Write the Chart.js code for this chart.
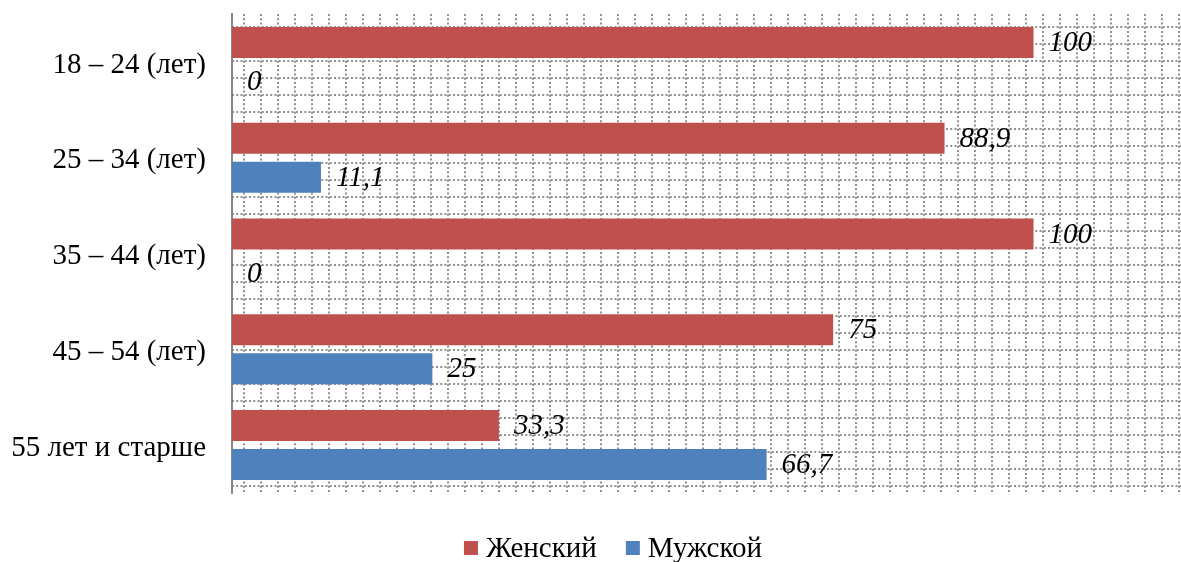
<!DOCTYPE html>
<html>
<head>
<meta charset="utf-8">
<script src="https://cdn.jsdelivr.net/npm/chart.js@4.4.0/dist/chart.umd.min.js"></script>
<style>
  html, body { margin: 0; padding: 0; background: #fff; }
  #wrap { width: 1181px; height: 562px; position: relative; }
</style>
</head>
<body>
<div id="wrap"><canvas id="c" width="1181" height="562"></canvas></div>
<script>
const categories = ["18 – 24 (лет)", "25 – 34 (лет)", "35 – 44 (лет)", "45 – 54 (лет)", "55 лет и старше"];
const femaleValues = [100, 88.9, 100, 75, 33.3];
const maleValues = [0, 11.1, 0, 25, 66.7];
const seriesNames = ["Женский", "Мужской"];
const seriesColors = ["#C0504D", "#4F81BD"];

const FONT = "'Liberation Serif', 'Times New Roman', serif";

const gridPattern = {
  id: 'gridPattern',
  beforeDatasetsDraw(chart) {
    const a = chart.chartArea;
    const ctx = chart.ctx;
    ctx.save();
    ctx.beginPath();
    ctx.rect(a.left + 1, a.top, a.right - a.left, a.bottom - a.top);
    ctx.clip();
    ctx.strokeStyle = '#909090';
    ctx.lineWidth = 2;
    ctx.setLineDash([2, 2.25]);
    for (let y = a.top + 13; y < a.bottom; y += 17) {
      ctx.beginPath();
      ctx.moveTo(a.left, y);
      ctx.lineTo(a.right, y);
      ctx.stroke();
    }
    for (let x = a.left + 12; x < a.right + 2; x += 17) {
      ctx.beginPath();
      ctx.moveTo(x, a.top);
      ctx.lineTo(x, a.bottom);
      ctx.stroke();
    }
    ctx.restore();
  }
};

const valueLabels = {
  id: 'valueLabels',
  afterDatasetsDraw(chart) {
    const ctx = chart.ctx;
    ctx.save();
    ctx.font = "italic 29px " + FONT;
    ctx.fillStyle = '#000';
    ctx.textAlign = 'left';
    ctx.textBaseline = 'middle';
    chart.data.datasets.forEach((ds, di) => {
      const meta = chart.getDatasetMeta(di);
      meta.data.forEach((el, i) => {
        const v = ds.data[i];
        const txt = String(v).replace('.', ',');
        ctx.fillText(txt, el.x + 15, el.y + 1);
      });
    });
    ctx.restore();
  }
};

const customLegend = {
  id: 'customLegend',
  afterDraw(chart) {
    const ctx = chart.ctx;
    ctx.save();
    ctx.font = "29px " + FONT;
    ctx.textBaseline = 'middle';
    ctx.textAlign = 'left';
    const box = 14, gapText = 8, gapItem = 29;
    const widths = seriesNames.map(n => ctx.measureText(n).width);
    let total = 0;
    widths.forEach((w, i) => { total += box + gapText + w + (i < widths.length - 1 ? gapItem : 0); });
    let x = 613 - total / 2;
    const cy = 548;
    seriesNames.forEach((n, i) => {
      ctx.fillStyle = seriesColors[i];
      ctx.fillRect(x, cy - 7, box, box);
      ctx.fillStyle = '#000';
      ctx.fillText(n, x + box + gapText, cy + 1);
      x += box + gapText + widths[i] + gapItem;
    });
    ctx.restore();
  }
};

new Chart(document.getElementById('c'), {
  type: 'bar',
  data: {
    labels: categories,
    datasets: [
      { label: seriesNames[0], data: femaleValues, backgroundColor: seriesColors[0], categoryPercentage: 0.814, barPercentage: 0.795 },
      { label: seriesNames[1], data: maleValues, backgroundColor: seriesColors[1], categoryPercentage: 0.814, barPercentage: 0.795 }
    ]
  },
  options: {
    indexAxis: 'y',
    responsive: false,
    animation: false,
    devicePixelRatio: 1,
    layout: { padding: { top: 14, bottom: 69, left: 0, right: 0 } },
    plugins: { legend: { display: false }, tooltip: { enabled: false } },
    scales: {
      x: { display: false, min: 0, max: 118.4 },
      y: {
        grid: { display: false, drawTicks: false },
        border: { display: true, color: '#868686', width: 2 },
        ticks: { color: '#000', padding: 26, labelOffset: 3, font: { family: FONT, size: 29 } },
        afterFit(scale) { scale.width = 232; scale.paddingTop = 0; scale.paddingBottom = 0; }
      }
    }
  },
  plugins: [gridPattern, valueLabels, customLegend]
});
</script>
</body>
</html>
